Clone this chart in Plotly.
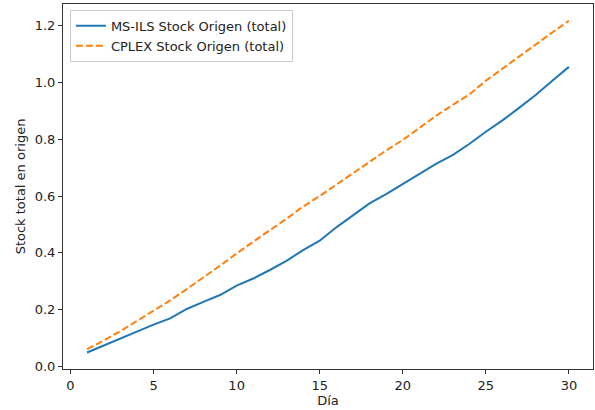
import plotly.graph_objects as go

# Daily total stock at origin for each solver
dias = list(range(1, 31))
ms_ils = [0.050, 0.075, 0.100, 0.125, 0.148, 0.170, 0.203, 0.228, 0.252, 0.285,
          0.310, 0.340, 0.372, 0.410, 0.443, 0.490, 0.533, 0.574, 0.607, 0.643,
          0.678, 0.713, 0.744, 0.783, 0.826, 0.866, 0.910, 0.955, 1.005, 1.054]
cplex = [0.062, 0.092, 0.125, 0.160, 0.195, 0.233, 0.273, 0.313, 0.355, 0.398,
         0.440, 0.480, 0.520, 0.563, 0.600, 0.640, 0.680, 0.723, 0.760, 0.797,
         0.840, 0.882, 0.920, 0.957, 1.005, 1.048, 1.090, 1.132, 1.175, 1.216]

x_ticks = [0, 5, 10, 15, 20, 25, 30]
y_ticks = [0.0, 0.2, 0.4, 0.6, 0.8, 1.0, 1.2]

FONT = "DejaVu Sans"
SIZE = 13

fig = go.Figure()
fig.add_trace(go.Scatter(x=dias, y=ms_ils, mode="lines",
                         name="MS-ILS Stock Origen (total)",
                         line=dict(color="#1f77b4", width=2)))
fig.add_trace(go.Scatter(x=dias, y=cplex, mode="lines",
                         name="CPLEX Stock Origen (total)",
                         line=dict(color="#ff7f0e", width=2, dash="7px,3px")))

axis_common = dict(showgrid=False, zeroline=False, showline=True, mirror=True,
                   linecolor="#333333", linewidth=1, ticks="outside",
                   ticklen=4, tickwidth=1, tickcolor="#333333",
                   tickfont=dict(family=FONT, size=SIZE, color="#222222"))

fig.update_layout(
    width=595, height=410,
    margin=dict(l=63, r=2, t=4, b=41),
    paper_bgcolor="white", plot_bgcolor="white",
    font=dict(family=FONT, size=SIZE, color="#222222"),
    xaxis=dict(range=[-0.45, 31.45], tickvals=x_ticks,
               ticktext=[str(v) for v in x_ticks],
               title=dict(text="Día", standoff=3,
                          font=dict(family=FONT, size=SIZE)),
               **axis_common),
    yaxis=dict(range=[-0.008, 1.275], tickvals=y_ticks,
               ticktext=[f"{v:.1f}" for v in y_ticks],
               title=dict(text="Stock total en origen", standoff=6,
                          font=dict(family=FONT, size=SIZE)),
               **axis_common),
    legend=dict(x=0.013, y=0.984, xanchor="left", yanchor="top",
                bgcolor="rgba(255,255,255,0.8)", bordercolor="#cccccc",
                borderwidth=1, itemwidth=30, tracegroupgap=0,
                font=dict(family=FONT, size=SIZE, color="#222222")),
    showlegend=True,
)

fig.write_html("out.html")
